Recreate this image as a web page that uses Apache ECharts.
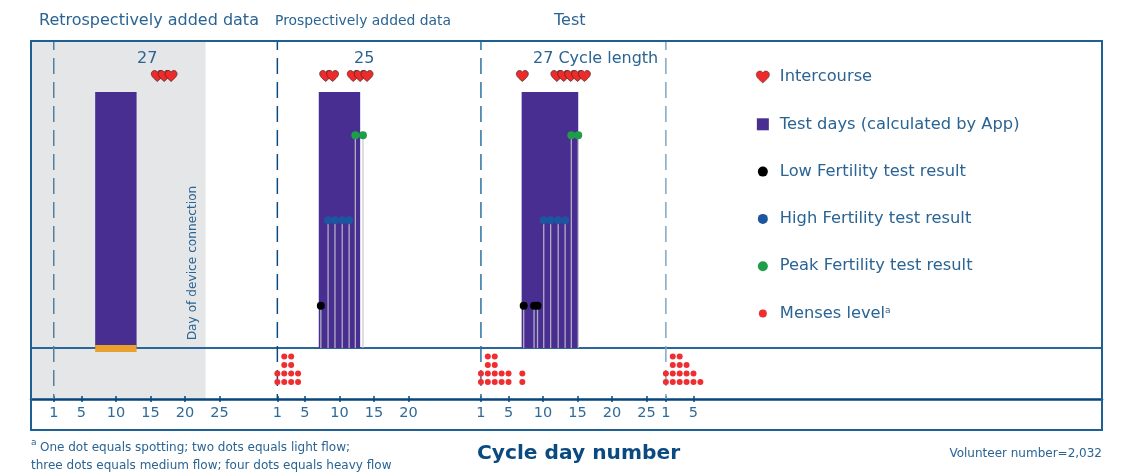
<!DOCTYPE html>
<html>
<head>
<meta charset="utf-8">
<style>
  html, body { margin: 0; padding: 0; background: #fff; }
  #chart { width: 1121px; height: 472px; }
</style>
</head>
<body>
<div id="chart"></div>
<script src="https://cdn.jsdelivr.net/npm/echarts@6/dist/echarts.min.js"></script>
<script>
// where each cycle's day 0 sits on the shared x axis
const cycleOffsets = [0, 32.4, 61.9, 88.7]
const tickDays = [
  [1, 5, 10, 15, 20, 25],
  [1, 5, 10, 15, 20],
  [1, 5, 10, 15, 20, 25],
  [1, 5]
]
const dashColors = ['#54809f', '#0b4a80', '#2f6fa3', '#7fa6c6']
const greyEndDay = 23

// [cycle, day]
const hearts = [[0, 16], [0, 17], [0, 18], [1, 8], [1, 9], [1, 12], [1, 13], [1, 14], [2, 7], [2, 12], [2, 13], [2, 14], [2, 15], [2, 16]]
// [cycle, first day, last day]
const testDays = [[0, 7, 13], [1, 7, 13], [2, 6.9, 15.1]]
const connectionStrip = [[0, 7, 13]]
const lowResults = [[1, 7.3], [2, 7.2], [2, 8.7], [2, 9.2]]
const highResults = [[1, 8.35], [1, 9.35], [1, 10.4], [1, 11.4], [2, 10.1], [2, 11.1], [2, 12.2], [2, 13.2]]
const peakResults = [[1, 12.3], [1, 13.4], [2, 14.1], [2, 15.1]]
// dots per day, starting at day 1, one list per cycle that has data
const mensesCounts = [[], [2, 4, 4, 2], [2, 4, 4, 2, 2, 0, 2], [2, 4, 4, 3, 2, 1]]

// levels on the 0-100 upper panel
const lowLevel = 13.8
const highLevel = 41.6
const peakLevel = 69.3
const testTop = 83.4
const heartLevel = 88.6

const blue = '#1f5f92'
const navy = '#07457d'
const fontName = '"DejaVu Sans"'
const xMin = -2.3
const xMax = 152.9

const heartPath = 'path://M12 21C5 15 1 11.500 1 7C1 3.500 3.700 1 7 1C9 1 11 2 12 4C13 2 15 1 17 1C20.300 1 23 3.500 23 7C23 11.500 19 15 12 21Z'
function dotIcon (r) {
  return 'path://M0 0M12 12M' + (6 - r) + ' 6a' + r + ' ' + r + ' 0 1 0 ' + (2 * r) + ' 0a' + r + ' ' + r + ' 0 1 0 ' + (-2 * r) + ' 0Z'
}
function toX (item) {
  return cycleOffsets[item[0]] + item[1]
}

let tickValues = []
let tickLabels = {}
tickDays.forEach((days, c) => {
  days.forEach(d => {
    tickValues.push(cycleOffsets[c] + d)
    tickLabels[(cycleOffsets[c] + d).toFixed(1)] = String(d)
  })
})

let mensesData = []
mensesCounts.forEach((counts, c) => {
  counts.forEach((n, i) => {
    for (let k = 1; k <= n; k++) {
      mensesData.push([cycleOffsets[c] + i + 1, k + 1])
    }
  })
})

function rectSeries (name, items, color, low, high, z) {
  return {
    name: name,
    type: 'custom',
    xAxisIndex: 0,
    yAxisIndex: 0,
    z: z,
    silent: true,
    itemStyle: { color: color },
    data: items.map(it => [cycleOffsets[it[0]] + it[1], cycleOffsets[it[0]] + it[2], low, high]),
    encode: { x: [0, 1], y: [2, 3] },
    renderItem: function (params, api) {
      let a = api.coord([api.value(0), api.value(3)])
      let b = api.coord([api.value(1), api.value(2)])
      return {
        type: 'rect',
        shape: { x: a[0], y: a[1], width: b[0] - a[0], height: b[1] - a[1] },
        style: { fill: color }
      }
    }
  }
}

function dotSeries (name, items, level, color) {
  return {
    name: name,
    type: 'scatter',
    xAxisIndex: 0,
    yAxisIndex: 0,
    z: 5,
    symbolSize: 8,
    itemStyle: { color: color, opacity: 1 },
    data: items.map(it => [toX(it), level])
  }
}

function dashSeries (offset, color) {
  return {
    type: 'line',
    xAxisIndex: 2,
    yAxisIndex: 2,
    z: 1,
    silent: true,
    symbol: 'none',
    lineStyle: { color: color, width: 1.500, type: [16, 8], dashOffset: 11 },
    data: [[offset + 1, 0], [offset + 1, 1]]
  }
}

let stemData = []
lowResults.forEach(it => stemData.push([toX(it), lowLevel]))
highResults.forEach(it => stemData.push([toX(it), highLevel]))
peakResults.forEach(it => stemData.push([toX(it), peakLevel]))

function baseX (gridIndex) {
  return {
    type: 'value',
    gridIndex: gridIndex,
    min: xMin,
    max: xMax,
    splitLine: { show: false },
    axisTick: { show: false },
    axisLabel: { show: false },
    axisLine: { show: false }
  }
}
function baseY (gridIndex, max) {
  return { type: 'value', gridIndex: gridIndex, min: 0, max: max, show: false }
}

let xTop = baseX(0)
xTop.axisLine = { show: true, onZero: false, lineStyle: { color: '#2a6697', width: 2 } }

let xBottom = baseX(1)
xBottom.axisLine = { show: true, onZero: false, lineStyle: { color: navy, width: 2.500 } }
xBottom.axisTick = { show: true, length: 3, customValues: tickValues, lineStyle: { color: navy, width: 1.500 } }
xBottom.axisLabel = {
  show: true,
  customValues: tickValues,
  margin: 7,
  hideOverlap: false,
  color: '#2f6a99',
  fontFamily: fontName,
  fontSize: 14.500,
  formatter: v => tickLabels[v.toFixed(1)] || ''
}

let xOverlay = baseX(2)
xOverlay.axisTick = { show: true, inside: true, length: 3, customValues: tickValues, lineStyle: { color: navy, width: 1.500 } }
xOverlay.axisLine = { show: false, onZero: false }

function textEl (text, x, y, size, opts) {
  opts = opts || {}
  return {
    type: 'text',
    x: x,
    y: y,
    z: 20,
    rotation: opts.rotation || 0,
    style: {
      text: text,
      fill: opts.fill || '#2a6494',
      font: (opts.weight || 400) + ' ' + size + 'px ' + fontName,
      align: opts.align || 'left',
      verticalAlign: 'middle'
    }
  }
}

let myChart = echarts.init(document.getElementById('chart'), null, { renderer: 'canvas' })
myChart.setOption({
  animation: false,
  backgroundColor: '#fff',
  grid: [
    { left: 31, top: 41, width: 1071, height: 307 },
    { left: 31, top: 348, width: 1071, height: 51 },
    { left: 31, top: 41, width: 1071, height: 358 }
  ],
  xAxis: [xTop, xBottom, xOverlay],
  yAxis: [baseY(0, 100), baseY(1, 6), baseY(2, 1)],
  legend: {
    orient: 'vertical',
    left: 751,
    top: 64,
    itemGap: 31.300,
    itemWidth: 14,
    itemHeight: 12,
    selectedMode: false,
    textStyle: {
      color: '#2a6494',
      fontFamily: fontName,
      fontSize: 16.300,
      lineHeight: 15,
      padding: [0, 0, 0, 5],
      rich: {
        sup: { fontSize: 9, color: '#2a6494', fontFamily: fontName, padding: [0, 0, 6, 0] }
      }
    },
    formatter: name => name === 'Menses level' ? 'Menses level{sup|a}' : name,
    data: [
      { name: 'Intercourse', icon: heartPath, itemStyle: { borderWidth: 0.5 } },
      { name: 'Test days (calculated by App)', icon: 'path://M0 0H12V12H0Z' },
      { name: 'Low Fertility test result', icon: dotIcon(5) },
      { name: 'High Fertility test result', icon: dotIcon(5) },
      { name: 'Peak Fertility test result', icon: dotIcon(5) },
      { name: 'Menses level', icon: dotIcon(4) }
    ]
  },
  series: [
    {
      // grey retrospective band
      type: 'line',
      xAxisIndex: 2,
      yAxisIndex: 2,
      z: 0,
      silent: true,
      data: [],
      markArea: {
        silent: true,
        z: 0,
        itemStyle: { color: '#e5e6e8' },
        data: [[{ xAxis: xMin }, { xAxis: greyEndDay }]]
      }
    },
    dashSeries(cycleOffsets[0], dashColors[0]),
    dashSeries(cycleOffsets[1], dashColors[1]),
    dashSeries(cycleOffsets[2], dashColors[2]),
    dashSeries(cycleOffsets[3], dashColors[3]),
    rectSeries('Test days (calculated by App)', testDays, '#482e91', 0, testTop, 2),
    rectSeries('Connection strip', connectionStrip, '#e8a02f', -1.300, 1, 3),
    {
      type: 'bar',
      xAxisIndex: 0,
      yAxisIndex: 0,
      z: 4,
      barWidth: 1.300,
      silent: true,
      itemStyle: { color: '#c4c4cc', opacity: 0.85 },
      data: stemData
    },
    dotSeries('Low Fertility test result', lowResults, lowLevel, '#000000'),
    dotSeries('High Fertility test result', highResults, highLevel, '#1c56a0'),
    dotSeries('Peak Fertility test result', peakResults, peakLevel, '#1f9d4a'),
    {
      name: 'Intercourse',
      type: 'scatter',
      xAxisIndex: 0,
      yAxisIndex: 0,
      z: 5,
      symbol: heartPath,
      symbolSize: [12, 11],
      itemStyle: { color: '#ee2b2b', borderColor: '#3d2424', borderWidth: 0.7, opacity: 1 },
      data: hearts.map(it => [toX(it), heartLevel])
    },
    {
      name: 'Menses level',
      type: 'scatter',
      xAxisIndex: 1,
      yAxisIndex: 1,
      z: 5,
      symbolSize: 6,
      itemStyle: { color: '#ee2e31', opacity: 1 },
      data: mensesData
    }
  ],
  graphic: [
    { type: 'rect', z: 19, shape: { x: 31, y: 41, width: 1071, height: 389 }, style: { fill: 'none', stroke: blue, lineWidth: 2 } },
    textEl('Retrospectively added data', 39, 21, 16),
    textEl('Prospectively added data', 275, 21, 13.900),
    textEl('Test', 554, 21, 16),
    textEl('27', 137, 59, 16),
    textEl('25', 354, 59, 16),
    textEl('27 Cycle length', 533, 59, 16),
    textEl('Day of device connection', 193, 263, 12.200, { align: 'center', rotation: Math.PI / 2 }),
    textEl('a', 31, 443, 9),
    textEl('One dot equals spotting; two dots equals light flow;', 40, 448, 12),
    textEl('three dots equals medium flow; four dots equals heavy flow', 31, 466, 12),
    textEl('Cycle day number', 477, 454, 20.200, { weight: 600, fill: '#0b4a80' }),
    textEl('Volunteer number=2,032', 1102, 454, 12, { align: 'right' })
  ]
})
</script>
</body>
</html>
